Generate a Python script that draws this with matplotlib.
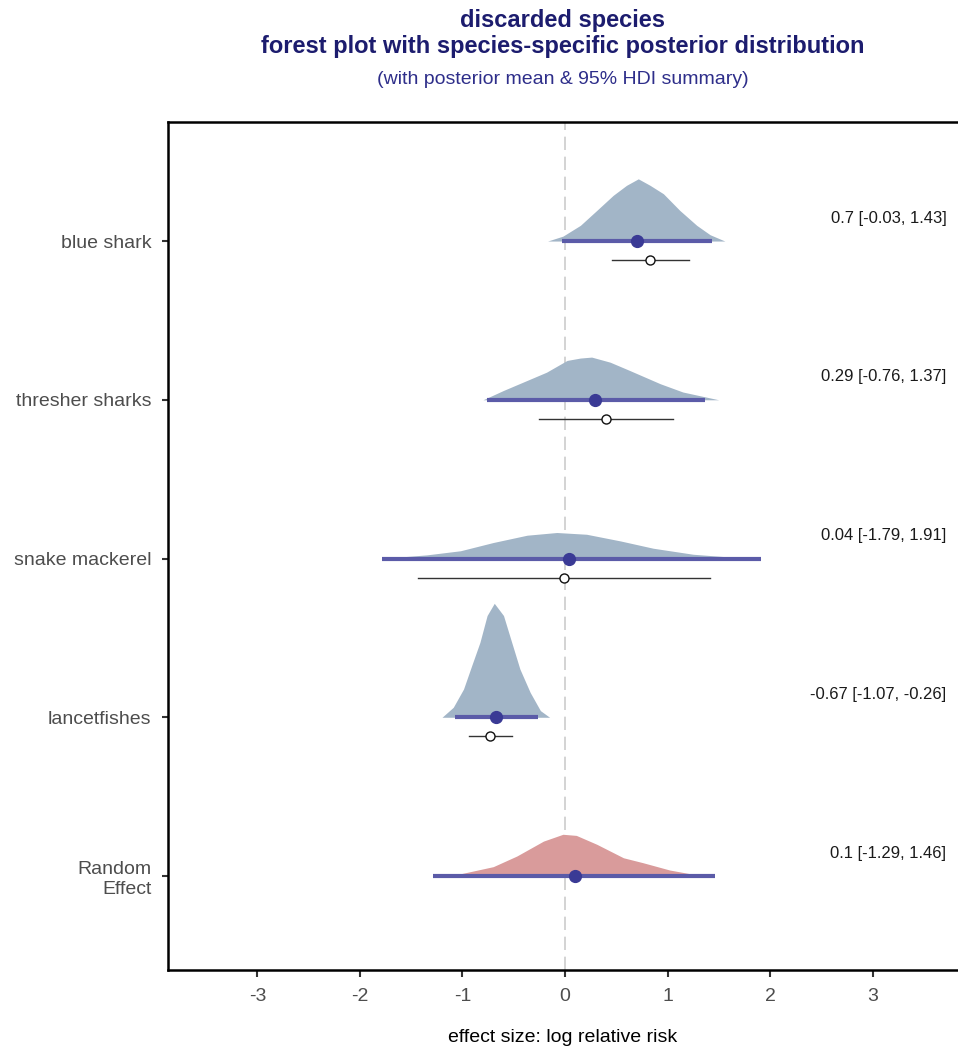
import matplotlib
matplotlib.use("Agg")
import matplotlib.pyplot as plt

plt.rcParams['font.family'] = ['Liberation Sans', 'DejaVu Sans']
plt.rcParams['axes.unicode_minus'] = False

# species, top to bottom
species = ["blue shark", "thresher sharks", "snake mackerel", "lancetfishes", "Random\nEffect"]

# posterior mean & 95% HDI
post_mean = [0.70, 0.29, 0.04, -0.67, 0.10]
post_lo = [-0.03, -0.76, -1.79, -1.07, -1.29]
post_hi = [1.43, 1.37, 1.91, -0.26, 1.46]
labels = ["0.7 [-0.03, 1.43]", "0.29 [-0.76, 1.37]", "0.04 [-1.79, 1.91]",
          "-0.67 [-1.07, -0.26]", "0.1 [-1.29, 1.46]"]

# observed study estimates (no entry for the random effect)
obs_est = [0.83, 0.40, -0.01, -0.73]
obs_lo = [0.455, -0.25, -1.43, -0.94]
obs_hi = [1.21, 1.05, 1.415, -0.52]

# posterior density outlines (x, height in row units)
dens_x = [
    [-0.17, -0.02, 0.15, 0.31, 0.47, 0.60, 0.715, 0.83, 0.96, 1.12, 1.285, 1.415, 1.56],
    [-0.80, -0.60, -0.41, -0.18, 0.02, 0.15, 0.26, 0.44, 0.63, 0.93, 1.15, 1.35, 1.50],
    [-1.80, -1.35, -1.02, -0.70, -0.37, -0.08, 0.21, 0.54, 0.86, 1.25, 1.58, 1.92],
    [-1.20, -1.09, -0.99, -0.91, -0.83, -0.76, -0.69, -0.60, -0.52, -0.44, -0.34, -0.24, -0.15],
    [-1.30, -1.02, -0.70, -0.47, -0.21, -0.02, 0.11, 0.31, 0.57, 0.76, 1.02, 1.25, 1.45],
]
dens_h = [
    [0, 0.031, 0.099, 0.193, 0.288, 0.351, 0.392, 0.351, 0.298, 0.193, 0.099, 0.040, 0],
    [0, 0.059, 0.111, 0.174, 0.248, 0.263, 0.269, 0.237, 0.185, 0.101, 0.049, 0.021, 0],
    [0, 0.023, 0.049, 0.101, 0.147, 0.164, 0.153, 0.111, 0.065, 0.027, 0.011, 0],
    [0, 0.063, 0.178, 0.326, 0.472, 0.641, 0.718, 0.641, 0.472, 0.304, 0.157, 0.042, 0],
    [0, 0.014, 0.059, 0.126, 0.220, 0.263, 0.256, 0.200, 0.115, 0.084, 0.038, 0.011, 0],
]

navy = "#1c1c6e"
fill_sp = "#a2b5c7"
fill_re = "#d99b9b"
bar_col = "#5b5ba8"
dot_col = "#3a3a95"

fig = plt.figure(figsize=(9.58, 10.5), dpi=100)
ax = fig.add_axes([168 / 958, 80 / 1050, 790 / 958, 848 / 1050])

n = len(species)
ypos = list(range(n, 0, -1))

ax.axvline(0, color="#cccccc", lw=1.2, dashes=(8, 4), zorder=0)

for i in range(n):
    y = ypos[i]
    col = fill_re if i == n - 1 else fill_sp
    ax.fill_between(dens_x[i], y, [y + h for h in dens_h[i]],
                    color=col, lw=0, zorder=1)
    # posterior HDI + mean
    ax.plot([post_lo[i], post_hi[i]], [y, y], color=bar_col, lw=3,
            solid_capstyle="butt", zorder=2)
    ax.plot(post_mean[i], y, "o", color=dot_col, ms=8.5, zorder=3)
    ax.text(3.72, y + 0.145, labels[i], ha="right", va="center",
            fontsize=12, color="#1a1a1a")

# observed estimates just below each row
for i in range(len(obs_est)):
    y = ypos[i] - 0.12
    ax.plot([obs_lo[i], obs_hi[i]], [y, y], color="#333333", lw=1, zorder=2)
    ax.plot(obs_est[i], y, "o", mfc="white", mec="#111111", mew=1,
            ms=6.5, zorder=3)

ax.set_xlim(-3.873, 3.834)
ax.set_ylim(0.408, 5.75)
ax.set_xticks([-3, -2, -1, 0, 1, 2, 3])
ax.set_yticks(ypos)
ax.set_yticklabels(species, fontsize=14, color="#4d4d4d")
ax.tick_params(axis="x", labelsize=14, labelcolor="#4d4d4d",
               length=5, width=1.5, pad=8, color="#333333")
ax.tick_params(axis="y", length=4, width=1.5, pad=8, color="#333333")
for lab in ax.get_yticklabels():
    lab.set_multialignment("right")

ax.spines["right"].set_visible(False)
for s in ["left", "top", "bottom"]:
    ax.spines[s].set_linewidth(1.8)
    ax.spines[s].set_color("black")

ax.set_xlabel("effect size: log relative risk", fontsize=14, labelpad=17)

cx = (168 + 958) / 2 / 958
fig.text(cx, 1 - 20 / 1050, "discarded species", ha="center", va="center",
         fontsize=17, fontweight="bold", color=navy)
fig.text(cx, 1 - 47 / 1050, "forest plot with species-specific posterior distribution",
         ha="center", va="center", fontsize=17, fontweight="bold", color=navy)
fig.text(cx, 1 - 80 / 1050, "(with posterior mean & 95% HDI summary)",
         ha="center", va="center", fontsize=14, color="#2e2e8a")

fig.savefig("out.png", dpi=100)
